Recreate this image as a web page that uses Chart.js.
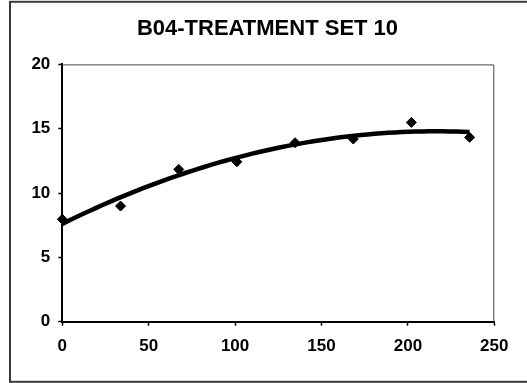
<!DOCTYPE html>
<html>
<head>
<meta charset="utf-8">
<title>B04-TREATMENT SET 10</title>
<script src="https://cdn.jsdelivr.net/npm/chart.js@4.4.1/dist/chart.umd.min.js"></script>
<style>
  html, body { margin: 0; padding: 0; background: #fff; }
  canvas { display: block; }
</style>
</head>
<body>
<canvas id="chart" width="527" height="383"></canvas>
<script>
// measured series
const days = [0, 33.7, 67.4, 101, 134.7, 168.4, 202, 235.7];
const values = [7.96, 8.99, 11.84, 12.43, 13.91, 14.2, 15.49, 14.33];
const xTicks = [0, 50, 100, 150, 200, 250];
const yTicks = [0, 5, 10, 15, 20];

const FONT = "'Liberation Sans', Arial, sans-serif";

// second order least squares fit (polynomial trendline)
function polyFit2(xs, ys) {
  const s = [0, 0, 0, 0, 0], r = [0, 0, 0];
  xs.forEach((x, i) => {
    for (let k = 0; k < 5; k++) s[k] += Math.pow(x, k);
    for (let k = 0; k < 3; k++) r[k] += Math.pow(x, k) * ys[i];
  });
  const a = [
    [s[0], s[1], s[2], r[0]],
    [s[1], s[2], s[3], r[1]],
    [s[2], s[3], s[4], r[2]]
  ];
  for (let c = 0; c < 3; c++) {
    for (let j = c + 1; j < 3; j++) {
      const f = a[j][c] / a[c][c];
      for (let k = c; k < 4; k++) a[j][k] -= f * a[c][k];
    }
  }
  const b = [0, 0, 0];
  for (let c = 2; c >= 0; c--) {
    let v = a[c][3];
    for (let k = c + 1; k < 3; k++) v -= a[c][k] * b[k];
    b[c] = v / a[c][c];
  }
  return b;
}

const coef = polyFit2(days, values);
const x0 = days[0], x1 = days[days.length - 1];
const trend = [];
for (let i = 0; i <= 60; i++) {
  const x = x0 + (x1 - x0) * i / 60;
  trend.push({ x: x, y: coef[0] + coef[1] * x + coef[2] * x * x });
}
const points = days.map((d, i) => ({ x: d, y: values[i] }));

// white page, outer frame and the thin top/right edge of the plot
const framePlugin = {
  id: 'frame',
  beforeDraw(chart) {
    const ctx = chart.ctx;
    ctx.save();
    ctx.fillStyle = '#fff';
    ctx.fillRect(0, 0, chart.width, chart.height);
    ctx.strokeStyle = '#3a3a3a';
    ctx.lineWidth = 2;
    ctx.strokeRect(10, 1.8, 600, 380);
    ctx.restore();
  },
  beforeDatasetsDraw(chart) {
    const { ctx, chartArea: a } = chart;
    ctx.save();
    ctx.strokeStyle = '#444';
    ctx.lineWidth = 1;
    ctx.beginPath();
    ctx.moveTo(a.left, a.top + 0.5);
    ctx.lineTo(a.right - 0.5, a.top + 0.5);
    ctx.lineTo(a.right - 0.5, a.bottom);
    ctx.stroke();
    ctx.restore();
  }
};

const tickFont = { family: FONT, size: 17, weight: 'bold' };

new Chart(document.getElementById('chart'), {
  type: 'scatter',
  data: {
    datasets: [
      {
        label: 'Trend',
        data: trend,
        showLine: true,
        borderColor: '#000',
        borderWidth: 4.5,
        pointRadius: 0,
        tension: 0,
        clip: false
      },
      {
        label: 'B04',
        data: points,
        pointStyle: 'rectRot',
        pointRadius: 5,
        backgroundColor: '#000',
        borderColor: '#000',
        borderWidth: 1,
        clip: false
      }
    ]
  },
  options: {
    responsive: false,
    animation: false,
    devicePixelRatio: 1,
    layout: { padding: { left: 8, right: 0, top: 0, bottom: 0 } },
    plugins: {
      legend: { display: false },
      tooltip: { enabled: false },
      title: {
        display: true,
        text: 'B04-TREATMENT SET 10',
        color: '#000',
        font: { family: FONT, size: 22, weight: 'bold' },
        padding: { top: 16, bottom: 22 }
      }
    },
    scales: {
      x: {
        type: 'linear',
        min: 0,
        max: 250,
        afterBuildTicks: s => { s.ticks = xTicks.map(v => ({ value: v })); },
        afterFit: s => { s.height = 61.3; },
        ticks: { color: '#000', font: tickFont, padding: 10, maxRotation: 0 },
        grid: { drawOnChartArea: false, tickLength: 4, tickColor: '#000', tickWidth: 1.5 },
        border: { color: '#000', width: 2 }
      },
      y: {
        min: 0,
        max: 20,
        afterBuildTicks: s => { s.ticks = yTicks.map(v => ({ value: v })); },
        afterFit: s => { s.width = 54.3; },
        ticks: { color: '#000', font: tickFont, padding: 8 },
        grid: { drawOnChartArea: false, tickLength: 4, tickColor: '#000', tickWidth: 1.5 },
        border: { color: '#000', width: 2 }
      },
      // empty right-hand gutter
      y2: {
        position: 'right',
        display: true,
        afterFit: s => { s.width = 32.7; },
        ticks: { display: false },
        grid: { display: false },
        border: { display: false }
      }
    }
  },
  plugins: [framePlugin]
});
</script>
</body>
</html>
